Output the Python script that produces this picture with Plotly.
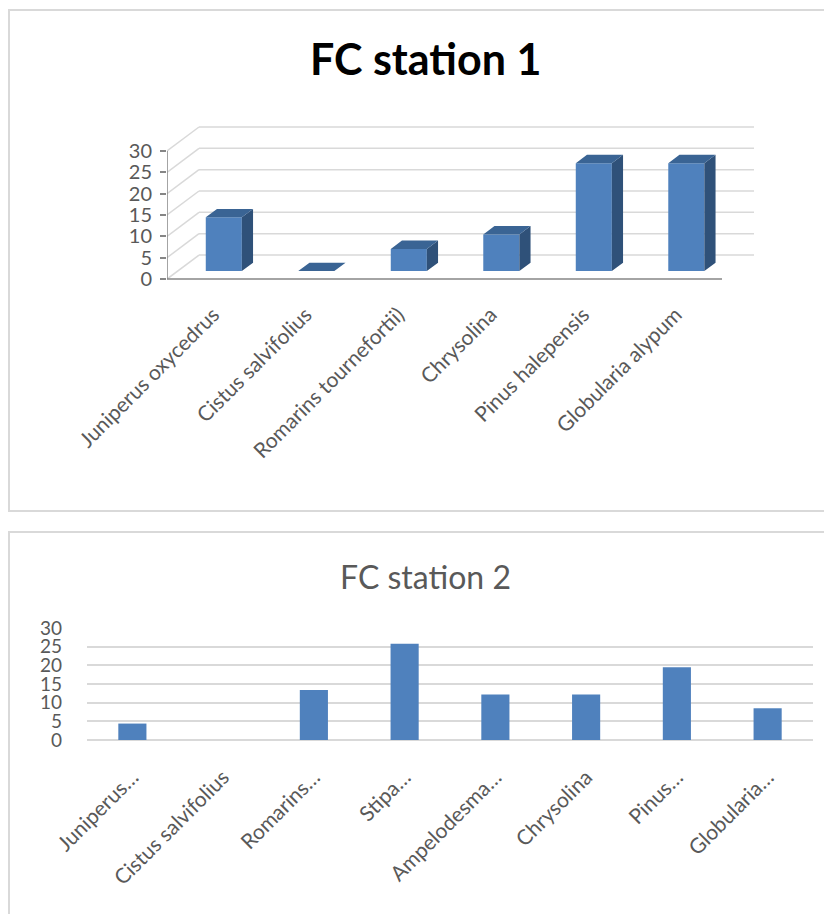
import plotly.graph_objects as go

# ---------------- data ----------------
cats1 = ["Juniperus oxycedrus", "Cistus salvifolius", "Romarins tournefortii)",
         "Chrysolina", "Pinus halepensis", "Globularia alypum"]
vals1 = [12.6, 0, 5.2, 8.6, 25.3, 25.3]

cats2 = ["Juniperus…", "Cistus salvifolius", "Romarins…", "Stipa…",
         "Ampelodesma…", "Chrysolina", "Pinus…", "Globularia…"]
vals2 = [4.4, 0, 13.4, 25.8, 12.2, 12.2, 19.5, 8.5]

yticks = [0, 5, 10, 15, 20, 25, 30]

title1 = "FC station 1"
title2 = "FC station 2"

# ---------------- style constants ----------------
PAGE_MARGIN = 8          # default body margin of the html page
W, H = 832 - 2 * PAGE_MARGIN, 922 - 2 * PAGE_MARGIN
FONT = "Lato"
GRID = "#D9D9D9"
AXIS = "#868686"
TXT = "#595959"
FRONT = "#4F81BD"
SIDE = "#2F5179"
TOP = "#3A6494"

DX = 0.346      # depth offset in x units (3D chart)
DY = 5.625      # depth offset in y units
D0, D1 = 0.33, 0.68   # bar depth span (fraction of floor depth)
BW = 0.39       # bar width (3D chart)

n1 = len(cats1)
fig = go.Figure()


def fx_(px):
    return (px - PAGE_MARGIN) / W


def fy_(py):
    return (H - (py - PAGE_MARGIN)) / H


shapes = []
# ---- 3D chart walls (drawn below traces) ----
for v in yticks:
    shapes.append(dict(type="line", xref="x", yref="y", layer="below",
                       x0=-0.5 + DX, x1=n1 - 0.5 + DX, y0=v + DY, y1=v + DY,
                       line=dict(color=GRID, width=1.5)))
    shapes.append(dict(type="line", xref="x", yref="y", layer="below",
                       x0=-0.5, x1=-0.5 + DX, y0=v, y1=v + DY,
                       line=dict(color=GRID, width=1.5)))
shapes.append(dict(type="line", xref="x", yref="y", layer="below",
                   x0=-0.5, x1=n1 - 0.5, y0=0, y1=0, line=dict(color=AXIS, width=1.5)))
shapes.append(dict(type="line", xref="x", yref="y", layer="below",
                   x0=-0.5, x1=-0.5, y0=0, y1=yticks[-1], line=dict(color=AXIS, width=1.5)))

# ---- 3D bars ----
fx = [i + D0 * DX for i in range(n1)]
fbase = D0 * DY
fig.add_trace(go.Bar(x=fx, y=vals1, base=[fbase] * n1, width=BW,
                     marker=dict(color=FRONT, line=dict(width=0)),
                     showlegend=False, xaxis="x", yaxis="y"))
sx, sy, tx, ty = [], [], [], []
ddx = (D1 - D0) * DX
ddy = (D1 - D0) * DY
for i, v in enumerate(vals1):
    xl = fx[i] - BW / 2
    xr = fx[i] + BW / 2
    y0 = fbase
    y1 = fbase + v
    if v > 0:
        sx += [xr, xr + ddx, xr + ddx, xr, xr, None]
        sy += [y0, y0 + ddy, y1 + ddy, y1, y0, None]
    tx += [xl, xr, xr + ddx, xl + ddx, xl, None]
    ty += [y1, y1, y1 + ddy, y1 + ddy, y1, None]
fig.add_trace(go.Scatter(x=sx, y=sy, mode="lines", fill="toself", fillcolor=SIDE,
                         line=dict(width=0, color=SIDE), hoverinfo="skip",
                         showlegend=False, xaxis="x", yaxis="y"))
fig.add_trace(go.Scatter(x=tx, y=ty, mode="lines", fill="toself", fillcolor=TOP,
                         line=dict(width=0, color=TOP), hoverinfo="skip",
                         showlegend=False, xaxis="x", yaxis="y"))

# ---- flat chart ----
fig.add_trace(go.Bar(x=cats2, y=vals2, width=0.31,
                     marker=dict(color=FRONT, line=dict(width=0)),
                     showlegend=False, xaxis="x2", yaxis="y2"))

shapes += [
    dict(type="rect", xref="paper", yref="paper",
         x0=fx_(9), x1=fx_(845), y0=fy_(511), y1=fy_(10),
         line=dict(color=GRID, width=2), fillcolor="rgba(0,0,0,0)", layer="below"),
    dict(type="rect", xref="paper", yref="paper",
         x0=fx_(9), x1=fx_(845), y0=fy_(945), y1=fy_(532),
         line=dict(color=GRID, width=2), fillcolor="rgba(0,0,0,0)", layer="below"),
]

fig.update_layout(
    width=W, height=H,
    margin=dict(l=0, r=0, t=0, b=0, pad=0),
    paper_bgcolor="white", plot_bgcolor="rgba(0,0,0,0)",
    font=dict(family=FONT, color=TXT),
    xaxis=dict(domain=[fx_(167), fx_(754)], range=[-0.5, n1 - 0.5 + DX],
               tickmode="array", tickvals=list(range(n1)), ticktext=cats1,
               tickangle=-45, tickfont=dict(size=21, color=TXT, family=FONT),
               showgrid=False, zeroline=False, showline=False, ticks="",
               ticklabelstandoff=14, automargin=False, fixedrange=True),
    yaxis=dict(domain=[fy_(283.3), fy_(125.4)], range=[-1, 36],
               tickmode="array", tickvals=yticks, ticks="outside", ticklen=6,
               tickcolor=AXIS, tickwidth=1.5,
               tickfont=dict(size=20, color=TXT, family=FONT),
               showgrid=False, zeroline=False, showline=False,
               ticklabelstandoff=4, automargin=False, fixedrange=True),
    xaxis2=dict(domain=[fx_(87), fx_(813)], anchor="y2",
                tickangle=-45, tickfont=dict(size=21, color=TXT, family=FONT),
                showgrid=False, zeroline=False, showline=False, ticks="",
                ticklabelstandoff=20, automargin=False, fixedrange=True),
    yaxis2=dict(domain=[fy_(740), fy_(628)], anchor="x2", range=[0, 30],
                tickmode="array", tickvals=yticks, showgrid=True, gridcolor=GRID,
                gridwidth=1.5, zeroline=True, zerolinecolor=GRID, zerolinewidth=1.5,
                tickfont=dict(size=19, color=TXT, family=FONT),
                ticklabelstandoff=24, automargin=False, fixedrange=True),
    shapes=shapes,
    annotations=[
        dict(text="<b>" + title1 + "</b>", xref="paper", yref="paper",
             x=fx_(426), y=fy_(59), xanchor="center", yanchor="middle",
             showarrow=False, font=dict(size=43, color="black", family=FONT)),
        dict(text=title2, xref="paper", yref="paper",
             x=fx_(426), y=fy_(576), xanchor="center", yanchor="middle",
             showarrow=False, font=dict(size=32, color=TXT, family=FONT)),
    ],
)

fig.write_html("out.html")
